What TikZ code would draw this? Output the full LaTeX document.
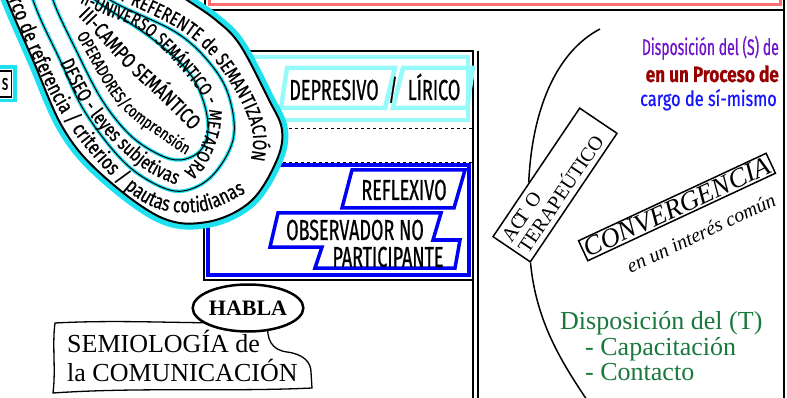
\documentclass[tikz,border=0pt]{standalone}
\usepackage{fontspec}
\setmainfont{Liberation Serif}
\newfontfamily\condfont[FakeStretch=0.62, FakeBold=0.6]{Fira Sans}
\newfontfamily\bandfont[FakeStretch=0.78, FakeBold=0.6]{Fira Sans}
\usetikzlibrary{decorations.text,shapes.geometric,calc}
\definecolor{blobcyan}{RGB}{30,225,240}
\definecolor{palecyan}{RGB}{150,250,250}
\definecolor{panelblue}{RGB}{0,0,245}
\definecolor{salmon}{RGB}{255,110,110}
\definecolor{violeta}{RGB}{110,20,200}
\definecolor{granate}{RGB}{150,0,0}
\definecolor{azul}{RGB}{20,20,255}
\definecolor{verde}{RGB}{25,120,60}
\begin{document}
\begin{tikzpicture}
    [x=1pt, y=-1pt,
     condtext/.style={font=\condfont\fontsize{#1}{#1}\selectfont, inner sep=0},
     seriftext/.style={font=\fontsize{#1}{#1}\selectfont, inner sep=0},
     paleframe/.style={draw=palecyan, line width=4.5},
     blueframe/.style={draw=panelblue, line width=3.5},
     ring/.style={line width=1},
     ringglow/.style={blobcyan, line width=3.5},
     alongtext/.style={decorate, decoration={text along path, text align=right, text={#1}}}]
    \useasboundingbox (0,0) rectangle (787,398);
    \clip (0,0) rectangle (787,398);

    % top frame
    \draw[salmon, line width=3] (209,-20) rectangle (780,5);
    \draw[line width=1.5] (205,-5) -- (205,10) -- (784,10);
    \draw[line width=2] (784,-5) -- (784,405);

    % left panel
    \draw[line width=1.5] (204,51) rectangle (473,280);
    \draw[line width=1.5] (473,280) -- (473,405);
    \draw[line width=1.5] (478,51) -- (478,405);
    \draw[palecyan, line width=4] (207,57) rectangle (468,120);
    \draw[dashed] (205,128) -- (473,128);
    \draw[dashed] (205,162) -- (473,162);
    \draw[blueframe] (208,165) rectangle (469,275);

    \draw[paleframe] (281,108) -- (287,68) -- (395,68) -- (385,108) -- cycle;
    \draw[paleframe] (393,108) -- (403,68) -- (473,68) -- (467,108) -- cycle;
    \node[condtext=29, anchor=base] (depresivo) at (334,100) {DEPRESIVO};
    \node[condtext=29, anchor=base] (barra) at (393,100) {/};
    \node[condtext=29, anchor=base] (lirico) at (434,100) {LÍRICO};

    \draw[blueframe] (342,208) -- (352,170) -- (465,170) -- (454,208) -- cycle;
    \draw[blueframe] (278,213) -- (441,213) -- (433,240) -- (460,240) -- (455,268)
      -- (315,268) -- (322,247) -- (270,247) -- cycle;
    \node[condtext=29, anchor=base] (reflexivo) at (404,200) {REFLEXIVO};
    \node[condtext=29, anchor=base] (observador) at (355,240) {OBSERVADOR NO};
    \node[condtext=29, anchor=base] (participante) at (388,267) {PARTICIPANTE};

    % semantic drop
    \def\outerring{plot[smooth cycle, tension=0.6] coordinates {(-25,-110) (-3,-30) (7,0) (33,60)
      (63,128) (100,173) (160,217) (207,222) (250,202) (276,162) (282,130) (268,98) (240,45)
      (217,21) (187,0) (140,-30) (50,-90)}}
    \def\middlering{plot[smooth cycle, tension=0.6] coordinates {(15,-70) (33,0) (60,60) (85,112)
      (122,160) (155,184) (183,191) (212,176) (233,140) (230,100) (213,67) (177,33) (110,0) (55,-40)}}
    \def\innerring{plot[smooth cycle, tension=0.6] coordinates {(45,-40) (53,0) (76,50) (102,100)
      (130,135) (158,154) (180,160) (200,151) (208,130) (203,100) (187,70) (150,37) (95,0) (68,-25)}}
    \draw[blobcyan, line width=12] \outerring;
    \fill[white] \outerring;
    \draw[line width=2] \outerring;
    \draw[ringglow] \middlering;
    \draw[ring] \middlering;
    \draw[ringglow] \innerring;
    \draw[ring] \innerring;

    \path[alongtext={|\bandfont\fontsize{21}{21}\selectfont|Marco de referencia / criterios / pautas cotidianas}]
      (-12,-60) .. controls (-6,-45) and (6,-4) .. (20,28)
      .. controls (33,59.7) and (51.2,100.8) .. (72,130)
      .. controls (92.8,158.7) and (119,186.3) .. (140,200)
      .. controls (161,213.7) and (180.3,213.2) .. (198,212)
      .. controls (215.7,210.8) and (238,196.2) .. (246,193);
    \path[alongtext={|\bandfont\fontsize{19.5}{19.5}\selectfont|I-REFERENTE de SEMANTIZACIÓN}]
      (20,-40) .. controls (40,-31.8) and (110.5,-4.7) .. (140,9)
      .. controls (169.5,22.7) and (181.5,29) .. (197,42)
      .. controls (212.5,55) and (223.8,72.3) .. (233,87)
      .. controls (242.2,101.7) and (249,117.8) .. (252,130)
      .. controls (255,142.2) and (251.2,155) .. (251,160);
    \path[alongtext={|\bandfont\fontsize{18.5}{18.5}\selectfont|II-UNIVERSO SEMÁNTICO - METAFORA}]
      (-10,-40) .. controls (7.5,-31.7) and (69,-2.3) .. (95,10)
      .. controls (121,22.3) and (128.3,20) .. (146,34)
      .. controls (163.7,48) and (190.7,79.3) .. (201,94)
      .. controls (211.3,108.7) and (208.8,111.5) .. (208,122)
      .. controls (207.2,132.5) and (200,148.8) .. (196,157)
      .. controls (192,165.2) and (186,168.7) .. (184,171);
    \path[alongtext={|\bandfont\fontsize{20}{20}\selectfont|DESEO - leyes subjetivas}]
      (20,-40) .. controls (26.8,-22.5) and (48.5,38) .. (61,65)
      .. controls (73.5,92) and (81.8,105.2) .. (95,122)
      .. controls (108.2,138.8) and (126.5,155.5) .. (140,166)
      .. controls (153.5,176.5) and (170,181.8) .. (176,185);
    \path[alongtext={|\bandfont\fontsize{21}{21}\selectfont|III-CAMPO SEMÁNTICO}]
      (10,-50) .. controls (22.2,-38.2) and (64,1.7) .. (83,21)
      .. controls (102,40.3) and (111.2,53) .. (124,66)
      .. controls (136.8,79) and (148.7,88.2) .. (160,99)
      .. controls (171.3,109.8) and (186.7,125.7) .. (192,131);
    \path[alongtext={|\bandfont\fontsize{17}{17}\selectfont|OPERADORES/comprensión}]
      (20,-60) .. controls (29.3,-44.2) and (59.7,7.7) .. (76,35)
      .. controls (92.3,62.3) and (103.2,86.3) .. (118,104)
      .. controls (132.8,121.7) and (153.7,132.5) .. (165,141)
      .. controls (176.3,149.5) and (182.5,152.7) .. (186,155);

    % cut box at the left edge
    \node[draw, line width=1.5, condtext=22, inner sep=3, minimum height=26, anchor=east] (sbox) at (12,84) {s};
    \draw[blobcyan, line width=3.5] ([shift={(-3,-3)}]sbox.north west) rectangle ([shift={(3,3)}]sbox.south east);

    % habla
    \draw[line width=1.3, fill=white] (55,323) .. controls (130,319) and (200,325) .. (268,322)
      .. controls (266,340) and (272,350) .. (287,352) .. controls (303,354) and (311,362) .. (311,372)
      -- (312,388) .. controls (230,392) and (140,387) .. (53,393) .. controls (56,370) and (52,345) .. (55,323) -- cycle;
    \node[seriftext=26, anchor=base west] (semio) at (67,352) {SEMIOLOGÍA de};
    \node[seriftext=26, anchor=base west] (comunica) at (67,381) {la COMUNICACIÓN};
    \node[draw, ellipse, line width=2.5, fill=white, minimum width=103, minimum height=47, inner sep=0,
      font=\fontsize{22}{22}\selectfont\bfseries] (habla) at (248,308) {HABLA};

    % right side
    \node[condtext=22.5, anchor=base east, text=violeta] (dispS) at (779,55) {Disposición del (S) de};
    \node[anchor=base east, text=granate, inner sep=0, font=\bandfont\fontsize{22}{22}\selectfont\bfseries] (proceso) at (779,82) {en un Proceso de};
    \node[anchor=base east, text=azul, inner sep=0, font=\bandfont\fontsize{21}{21}\selectfont] (cargo) at (777,106) {cargo de sí-mismo};

    \node[draw, line width=1.5, rotate=56, minimum width=155, minimum height=45, text width=145,
      align=left, font=\fontsize{20}{20}\selectfont, inner sep=3] (acto) at (555,185) {AC\hspace{-0.3em}T O\\TERAPEÚTICO};
    \coordinate (arcotop) at (600,29);
    \coordinate (arcobot) at (587,400);
    \draw[line width=1.5] (arcotop) .. controls (556,52) and (532,110) .. ($(acto.north west)!0.42!(acto.north east)$);
    \draw[line width=1.5] (acto.south west) .. controls (536,320) and (560,360) .. (arcobot);

    \node[draw, line width=1.5, rotate=25, minimum width=207, minimum height=22, inner sep=0,
      font=\fontsize{27}{27}\selectfont\itshape] (conv) at (677,207) {CONVERGENCIA};
    \node[rotate=25, font=\fontsize{20}{20}\selectfont\itshape, inner sep=0] (interes) at (701,233) {en un interés común};

    \node[seriftext=26, anchor=base west, text=verde] (dispT) at (560,329) {Disposición del (T)};
    \node[seriftext=26, anchor=base west, text=verde] (capac) at (585,355) {- Capacitación};
    \node[seriftext=26, anchor=base west, text=verde] (contacto) at (585,380) {- Contacto};
\end{tikzpicture}
\end{document}
